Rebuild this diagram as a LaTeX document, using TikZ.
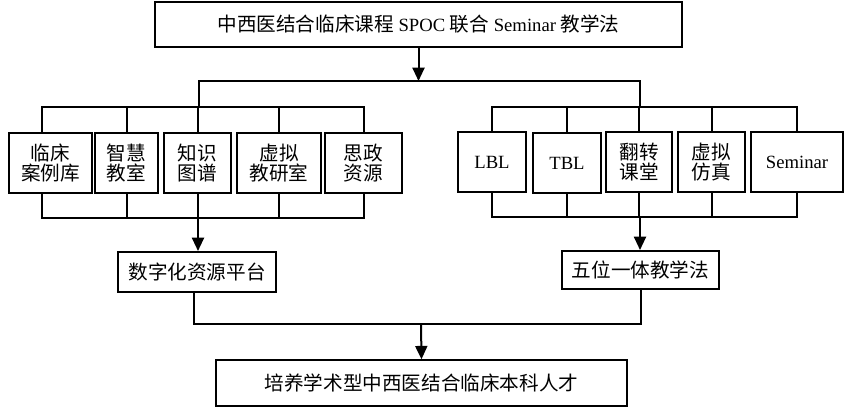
\documentclass[tikz,border=0pt]{standalone}
\usepackage{fontspec}
\setmainfont{Liberation Serif}
\newfontfamily\cjk[Scale=1.05]{Noto Sans CJK SC}
\newcommand\zh[1]{{\cjk #1}}
\usetikzlibrary{arrows.meta}
\begin{document}
\begin{tikzpicture}[x=0.75pt,y=-0.75pt,
  box/.style={draw,line width=1.1pt,inner sep=0pt,align=center,font=\fontsize{14}{15.5}\selectfont},
  conn/.style={line width=1.5pt},
  arr/.style={line width=1.5pt,-{Triangle[width=9pt,length=10pt]}}]
\useasboundingbox (0,0) rectangle (849,408);
% boxes
\node[box,minimum width=395.25pt,minimum height=33.75pt] (top) at (418.5,24.5)
  {\zh{中西医结合临床课程} SPOC \zh{联合} Seminar \zh{教学法}};
\node[box,minimum width=62.25pt,minimum height=45pt] (L1) at (50.5,163) {\zh{临床}\\\zh{案例库}};
\node[box,minimum width=47.25pt,minimum height=45pt] (L2) at (126.5,163) {\zh{智慧}\\\zh{教室}};
\node[box,minimum width=50.25pt,minimum height=45pt] (L3) at (197.5,163) {\zh{知识}\\\zh{图谱}};
\node[box,minimum width=63pt,minimum height=45pt] (L4) at (279,163) {\zh{虚拟}\\\zh{教研室}};
\node[box,minimum width=57.75pt,minimum height=45pt] (L5) at (363.5,163) {\zh{思政}\\\zh{资源}};
\node[box,minimum width=51pt,minimum height=45pt] (R1) at (492,162) {LBL};
\node[box,minimum width=51pt,minimum height=45pt] (R2) at (567,163) {TBL};
\node[box,minimum width=49.5pt,minimum height=45pt] (R3) at (639,162) {\zh{翻转}\\\zh{课堂}};
\node[box,minimum width=50.25pt,minimum height=45pt] (R4) at (711.5,162) {\zh{虚拟}\\\zh{仿真}};
\node[box,minimum width=69pt,minimum height=45pt] (R5) at (797,162) {Seminar};
\node[box,line width=1.5pt,minimum width=118.5pt,minimum height=30pt] (plat) at (197,272) {\zh{数字化资源平台}};
\node[box,line width=1.5pt,minimum width=117.75pt,minimum height=28.5pt] (wuwei) at (640.5,270) {\zh{五位一体教学法}};
\node[box,minimum width=308.25pt,minimum height=34.5pt] (goal) at (421.5,383) {\zh{培养学术型中西医结合临床本科人才}};
% coordinates
\coordinate (split) at (419,81);
\coordinate (lbus) at (199,107);
\coordinate (rbus) at (640,107);
\coordinate (lbot) at (198,218);
\coordinate (rbot) at (640,217);
\coordinate (merge) at (421,324);
\coordinate (L1n) at ([xshift=-6.4pt]L1.north);
\coordinate (L1s) at ([xshift=-6.4pt]L1.south);
% top split
\draw[arr] (top.south) -- (top.south |- split);
\draw[conn] (lbus) |- (split) -| (rbus);
% left upper bus
\draw[conn] (L1n) |- (L5.north |- lbus) -- (L5.north);
\foreach \n in {L2,L3,L4} \draw[conn] (\n.north) -- (\n.north |- lbus);
% left lower bus
\draw[conn] (L1s) |- (L5.south |- lbot) -- (L5.south);
\foreach \n in {L2,L3,L4} \draw[conn] (\n.south) -- (\n.south |- lbot);
\draw[arr] (lbot) -- (lbot |- plat.north);
% right upper bus
\draw[conn] (R1.north) |- (R5.north |- rbus) -- (R5.north);
\foreach \n in {R2,R3,R4} \draw[conn] (\n.north) -- (\n.north |- rbus);
% right lower bus
\draw[conn] (R1.south) |- (R5.south |- rbot) -- (R5.south);
\foreach \n in {R2,R3,R4} \draw[conn] (\n.south) -- (\n.south |- rbot);
\draw[arr] (rbot) -- (rbot |- wuwei.north);
% merge
\draw[conn] ([xshift=-2.25pt]plat.south) |- (wuwei.south |- merge) -- (wuwei.south);
\draw[arr] (merge) -- (goal.north);
\end{tikzpicture}
\end{document}
